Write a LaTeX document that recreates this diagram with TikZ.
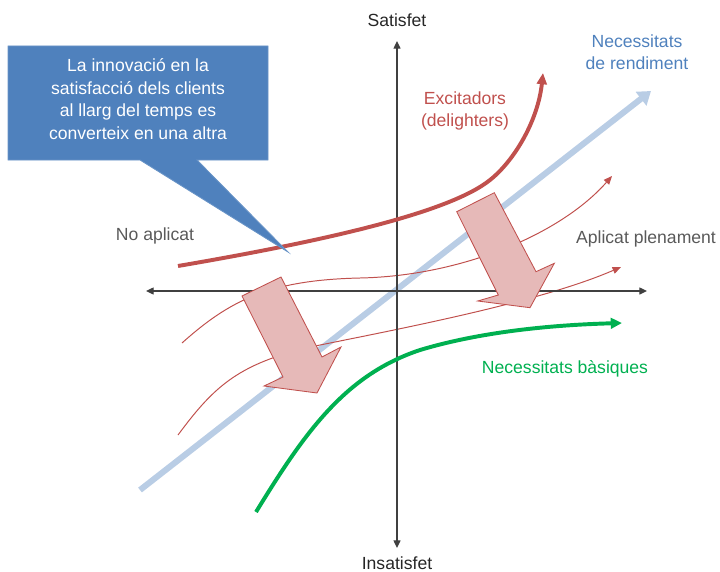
\documentclass[tikz,border=0pt]{standalone}
\usepackage{fontspec}
\setmainfont{Liberation Sans}
\usetikzlibrary{arrows.meta}
\definecolor{kanored}{HTML}{C0504D}
\definecolor{kanopink}{HTML}{E6B9B8}
\definecolor{kanoblue}{HTML}{4F81BD}
\definecolor{kanolight}{HTML}{B9CDE5}
\definecolor{kanogreen}{HTML}{00B050}
\definecolor{kanogray}{HTML}{595959}

\begin{document}
\begin{tikzpicture}[x=0.025cm,y=-0.025cm,font=\fontsize{12.5}{16}\selectfont,
  axis/.style={{Triangle[length=5.5pt,width=5pt]}-{Triangle[length=5.5pt,width=5pt]},line width=1pt,black!75},
  thincurve/.style={-{Triangle[length=6pt,width=5pt]},kanored,line width=0.7pt},
  shiftarrow/.style={fill=kanopink,draw=kanored,line width=0.6pt,line join=miter}]
  \useasboundingbox (0,0) rectangle (720,571);

  \node[text=black!85] (satisfet) at (397,20) {Satisfet};
  \node[text=black!85] (insatisfet) at (397,563) {Insatisfet};
  \node[text=kanogray] (noaplicat) at (155,236) {No aplicat};
  \node[text=kanogray] (aplicat) at (646,239) {Aplicat plenament};
  \node[text=kanoblue,align=center] (rendiment) at (637,52) {Necessitats\\de rendiment};
  \node[text=kanored,align=center] (excitadors) at (465,111) {Excitadors\\(delighters)};
  \node[text=kanogreen] (basiques) at (565,369) {Necessitats bàsiques};

  \coordinate (xmin) at (146,291);
  \coordinate (xmax) at (647,291);
  \coordinate (ymin) at (397,548);
  \coordinate (ymax) at (397,41);

  \draw[kanolight,line width=4.3pt,-{Triangle[length=9pt,width=12pt]}] (140,490) -- (651,91);
  \draw[thincurve] (182,343) .. controls (230,300) and (270,280) .. (360,278)
    .. controls (460,276) and (560,235) .. (612,176);
  \draw[thincurve] (178,435) .. controls (215,385) and (240,362) .. (320,345)
    .. controls (420,325) and (545,300) .. (621,267);
  \draw[axis] (xmin) -- (xmax);
  \draw[axis] (ymin) -- (ymax);
  \draw[kanored,line width=2.8pt,-{Triangle[length=8pt,width=7pt]}]
    (178,266) .. controls (330,240) and (450,212) .. (490,180)
    .. controls (515,160) and (538,120) .. (543,73);
  \draw[kanogreen,line width=2.8pt,-{Triangle[length=8pt,width=7.5pt]}]
    (256,512) .. controls (305,432) and (345,375) .. (420,350)
    .. controls (480,332) and (550,325) .. (622,323);

  \draw[shiftarrow] (242,296) -- (281,277) -- (322,357) -- (341,347) -- (317,393) -- (264,386) -- (283,377) -- cycle;
  \draw[shiftarrow] (456.7,211.7) -- (494.3,192.7) -- (536,271.7) -- (554.3,263.3) -- (530,307.7) -- (477.7,301) -- (498.3,295) -- cycle;

  \draw[fill=kanoblue,draw=kanoblue!85!white,line width=0.6pt,line join=miter]
    (8,46) -- (268,46) -- (268,160) -- (197,160) -- (288,252) -- (140,160) -- (8,160) -- cycle;
  \node[text=white,align=center] (callout) at (138,99) {La innovació en la\\satisfacció dels clients\\al llarg del temps es\\converteix en una altra};
\end{tikzpicture}
\end{document}
